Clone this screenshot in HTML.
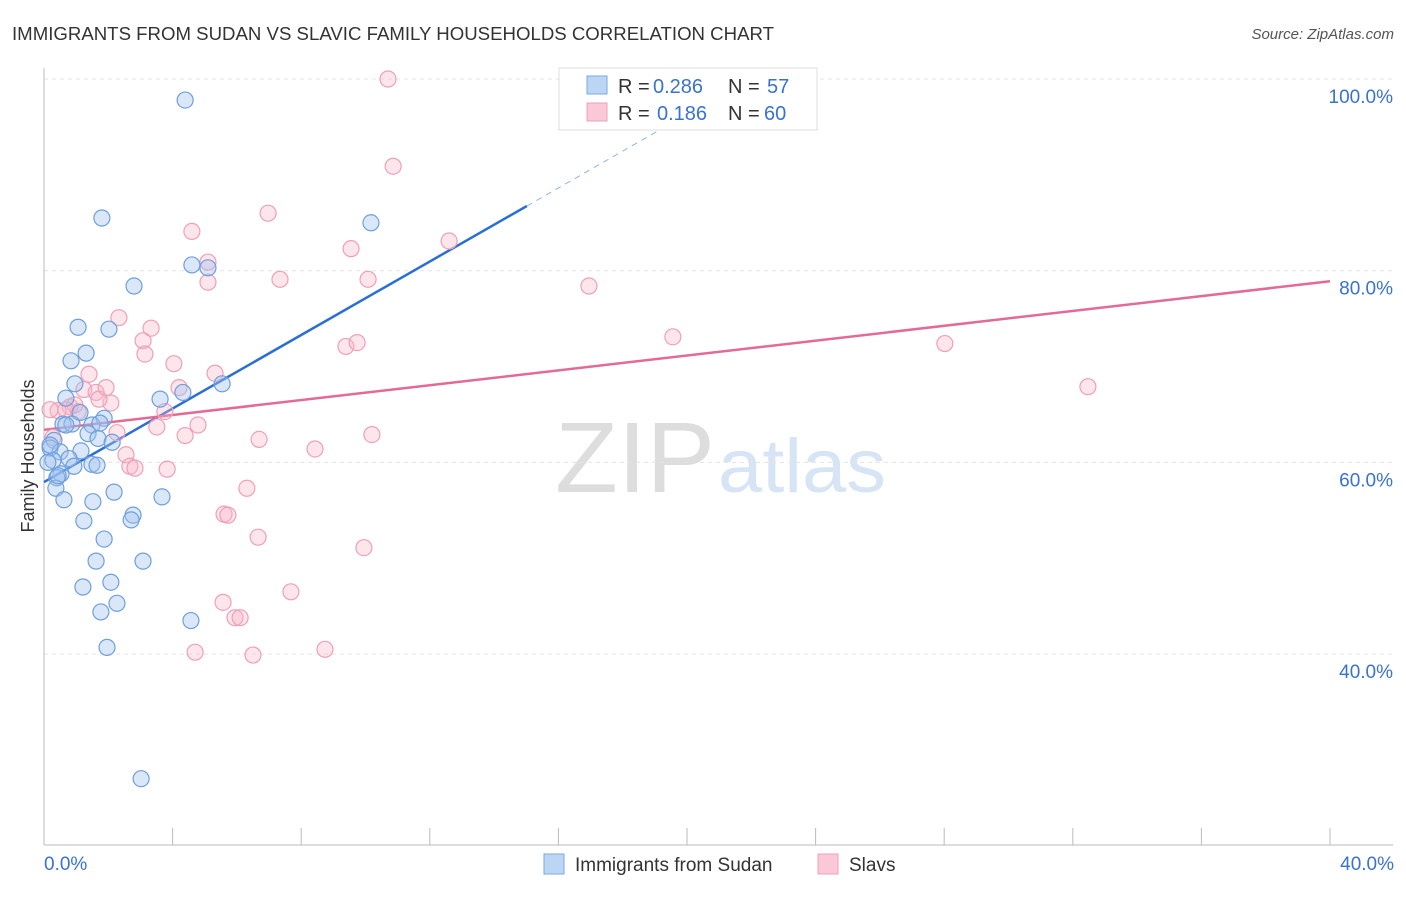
<!DOCTYPE html>
<html><head><meta charset="utf-8"><style>
body{margin:0;background:#fff;font-family:"Liberation Sans",sans-serif}
svg text{font-family:"Liberation Sans",sans-serif}
</style></head><body>
<svg width="1406" height="892" xmlns="http://www.w3.org/2000/svg">
<text x="12" y="40" font-size="18" fill="#333" textLength="762" lengthAdjust="spacingAndGlyphs">IMMIGRANTS FROM SUDAN VS SLAVIC FAMILY HOUSEHOLDS CORRELATION CHART</text>
<text x="1394" y="39" font-size="15" fill="#555" font-style="italic" text-anchor="end">Source: ZipAtlas.com</text>
<text x="555" y="492" font-size="100" fill="#ddd" textLength="160" lengthAdjust="spacingAndGlyphs" font-family="Liberation Serif">ZIP</text>
<text x="718" y="492" font-size="76" fill="#d6e4f5" textLength="168" lengthAdjust="spacingAndGlyphs">atlas</text>
<g id="grid"></g><g id="axes"></g><g id="trend"></g><g id="pts"></g>
<text transform="translate(34,456) rotate(-90)" font-size="18" fill="#333" text-anchor="middle">Family Households</text>
<g>
<rect x="559" y="68" width="258" height="62" fill="#fff" stroke="#ddd"/>
<rect x="587" y="76" width="20" height="18" fill="#bcd5f5" stroke="#7aaae0"/>
<rect x="587" y="103" width="20" height="18" fill="#fbc8d8" stroke="#eea0b8"/>
<text x="618" y="93" font-size="20" fill="#333">R =</text>
<text x="653" y="93" font-size="20" fill="#3a72d0">0.286</text>
<text x="728" y="93" font-size="20" fill="#333">N =</text>
<text x="767" y="93" font-size="20" fill="#3a72d0">57</text>
<text x="618" y="120" font-size="20" fill="#333">R =</text>
<text x="657" y="120" font-size="20" fill="#3a72d0">0.186</text>
<text x="728" y="120" font-size="20" fill="#333">N =</text>
<text x="764" y="120" font-size="20" fill="#3a72d0">60</text>
</g>
<g>
<rect x="544" y="854" width="20" height="20" fill="#bcd5f5" stroke="#7aaae0"/>
<text x="575" y="871" font-size="19" fill="#333">Immigrants from Sudan</text>
<rect x="818" y="854" width="20" height="20" fill="#fbc8d8" stroke="#eea0b8"/>
<text x="849" y="871" font-size="19" fill="#333">Slavs</text>
</g>
</svg>
<script>
const blueX=[4.39,1.80,10.17,4.60,5.10,2.80,1.06,2.02,1.31,0.84,0.96,5.54,3.61,4.32,0.68,1.12,1.87,0.59,0.87,1.49,1.37,1.68,2.12,0.31,0.19,0.50,1.15,0.78,0.28,0.12,0.93,1.49,1.65,0.53,0.40,0.37,2.18,3.67,0.62,1.52,2.77,2.71,1.24,1.87,3.08,1.62,2.08,1.21,2.27,1.77,4.57,1.96,3.02,0.19,0.44,0.68,1.74];
const blueY=[97.8,85.5,85.0,80.6,80.3,78.4,74.1,73.9,71.4,70.6,68.2,68.2,66.6,67.3,66.7,65.2,64.6,64.0,64.0,63.9,63.0,62.5,62.1,62.3,61.5,61.1,61.2,60.4,60.2,60.0,59.6,59.8,59.7,58.8,58.4,57.3,56.9,56.4,56.1,55.9,54.5,54.0,53.9,52.0,49.7,49.7,47.5,47.0,45.3,44.4,43.5,40.7,27.0,61.8,58.6,63.9,64.1];
const pinkX=[10.70,10.86,6.97,4.60,12.60,9.55,5.10,5.10,7.34,10.08,16.95,2.33,3.33,3.08,19.56,9.39,9.74,28.02,3.14,4.04,1.40,5.32,32.47,1.24,4.20,1.62,2.08,1.71,0.81,0.44,1.06,3.76,4.79,3.51,4.39,2.27,6.69,10.20,8.43,0.28,2.55,2.67,2.83,3.83,6.31,5.60,5.72,6.66,9.95,7.68,5.57,5.94,6.10,4.70,6.50,8.74,0.19,0.96,1.93,0.68];
const pinkY=[100.0,90.9,86.0,84.1,83.1,82.3,80.9,78.8,79.1,79.1,78.4,75.1,74.0,72.7,73.1,72.1,72.5,72.4,71.3,70.3,69.2,69.3,67.9,67.6,67.8,67.3,66.2,66.6,65.8,65.4,65.3,65.3,63.9,63.7,62.8,63.1,62.4,62.9,61.4,62.6,60.8,59.6,59.4,59.3,57.3,54.6,54.5,52.2,51.1,46.5,45.4,43.8,43.8,40.2,39.9,40.5,65.5,66.0,67.8,65.5];
const yTicks=[100,80,60,40];
const xTicks=[0,4,8,12,16,20,24,28,32,36,40];
const blueTrend=[[0,57.95],[15.02,86.75],[21.03,98.3]];
const pinkTrend=[[0,63.4],[40,78.9]];
const X=v=>44+v*32.15, Y=v=>79+(100-v)*9.585;
const NS='http://www.w3.org/2000/svg';
function mk(p,t,a){const e=document.createElementNS(NS,t);for(const k in a)e.setAttribute(k,a[k]);document.getElementById(p).appendChild(e);return e;}
yTicks.forEach(t=>{
 const g=mk('grid','line',{x1:44,x2:1393,y1:Y(t),y2:Y(t),stroke:'#e3e3e3','stroke-dasharray':'4,4'});
 
 
 const l=mk('grid','text',{x:1393,y:Y(t)+24,'font-size':19,fill:'#3a72d0','text-anchor':'end'});l.textContent=t.toFixed(1)+'%';
 
 
});
mk('axes','line',{x1:44,x2:1393,y1:845,y2:845,stroke:'#bbb'});
mk('axes','line',{x1:44,x2:44,y1:68,y2:845,stroke:'#bbb'});
xTicks.forEach(t=>{const e=mk('axes','line',{x1:X(t),x2:X(t),y1:828,y2:845,stroke:'#bbb'});
 
 });
[[0,'start',44],[40,'end',1394]].forEach(([t,a,x])=>{const l=mk('axes','text',{x:x,y:870,'font-size':19,fill:'#3a72d0','text-anchor':a});l.textContent=t.toFixed(1)+'%';
 
 });
const bl=mk('trend','line',{x1:X(blueTrend[0][0]),y1:Y(blueTrend[0][1]),x2:X(blueTrend[1][0]),y2:Y(blueTrend[1][1]),stroke:'#2a6fd6','stroke-width':2.5});


const bd=mk('trend','line',{x1:X(blueTrend[1][0]),y1:Y(blueTrend[1][1]),x2:X(blueTrend[2][0]),y2:Y(blueTrend[2][1]),stroke:'#8fb4e6','stroke-width':1,'stroke-dasharray':'6,5'});


const pl=mk('trend','line',{x1:X(pinkTrend[0][0]),y1:Y(pinkTrend[0][1]),x2:X(pinkTrend[1][0]),y2:Y(pinkTrend[1][1]),stroke:'#e46a96','stroke-width':2.5});


pinkX.forEach((x,i)=>{const c=mk('pts','circle',{cx:X(x),cy:Y(pinkY[i]),r:8,fill:'rgba(248,180,200,0.35)',stroke:'#eea0b8','stroke-width':1.2});
 
 });
blueX.forEach((x,i)=>{const c=mk('pts','circle',{cx:X(x),cy:Y(blueY[i]),r:8,fill:'rgba(160,196,240,0.4)',stroke:'#6f9fdc','stroke-width':1.2});
 
 });
</script>
</body></html>
